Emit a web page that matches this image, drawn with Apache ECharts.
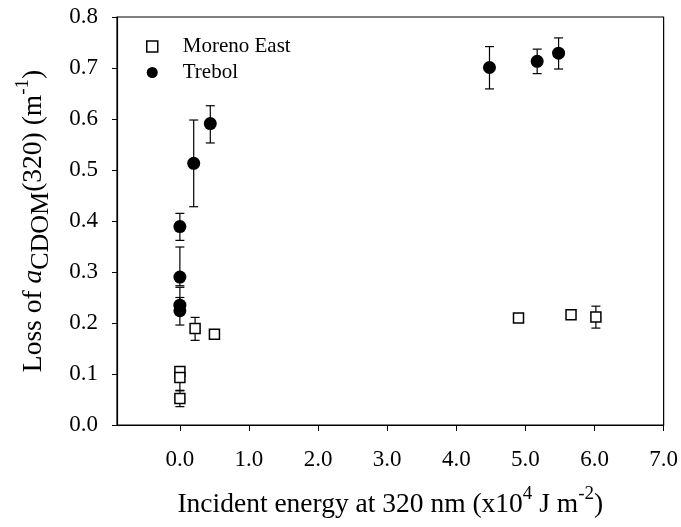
<!DOCTYPE html>
<html>
<head>
<meta charset="utf-8">
<script src="https://cdn.jsdelivr.net/npm/echarts@6/dist/echarts.min.js"></script>
<style>
  html, body { margin: 0; padding: 0; background: #fff; }
  #chart { width: 681px; height: 527px; }
</style>
</head>
<body>
<div id="chart"></div>
<script>
// values
const trebolX = [0.0, 0.0, 0.0, 0.0, 0.20, 0.44, 4.48, 5.17, 5.48];
const trebolY = [0.389, 0.290, 0.235, 0.224, 0.513, 0.591, 0.701, 0.713, 0.729];
const trebolLo = [0.362, 0.273, 0.226, 0.196, 0.428, 0.553, 0.659, 0.689, 0.698];
const trebolHi = [0.415, 0.349, 0.270, 0.250, 0.598, 0.626, 0.742, 0.737, 0.759];

const morenoX = [0.0, 0.0, 0.0, 0.22, 0.50, 4.90, 5.66, 6.02];
const morenoY = [0.105, 0.093, 0.052, 0.189, 0.178, 0.210, 0.216, 0.212];
const morenoLo = [0.095, 0.068, 0.036, 0.166, 0.174, 0.206, 0.207, 0.190];
const morenoHi = [0.114, 0.100, 0.067, 0.211, 0.182, 0.214, 0.226, 0.233];

const xTicks = [0, 1, 2, 3, 4, 5, 6, 7];

const FONT = '"Liberation Serif", "Times New Roman", serif';

const zip = (xs, ys) => xs.map((x, i) => [x, ys[i]]);
const zipErr = (xs, lo, hi) => xs.map((x, i) => [x, lo[i], hi[i]]);

function errorBars(params, api) {
  const x = api.value(0);
  const lo = api.coord([x, api.value(1)]);
  const hi = api.coord([x, api.value(2)]);
  const cap = 4.5;
  const style = { stroke: '#000', lineWidth: 1.2 };
  return {
    type: 'group',
    children: [
      { type: 'line', shape: { x1: lo[0], y1: lo[1], x2: hi[0], y2: hi[1] }, style },
      { type: 'line', shape: { x1: lo[0] - cap, y1: lo[1], x2: lo[0] + cap, y2: lo[1] }, style },
      { type: 'line', shape: { x1: hi[0] - cap, y1: hi[1], x2: hi[0] + cap, y2: hi[1] }, style },
    ],
  };
}

const chart = echarts.init(document.getElementById('chart'), null, { renderer: 'canvas' });

chart.setOption({
  animation: false,
  backgroundColor: '#fff',
  textStyle: { fontFamily: FONT, color: '#000' },
  grid: {
    left: 117, right: 16, top: 17, bottom: 102,
    show: true, borderColor: '#000', borderWidth: 1.2, backgroundColor: 'transparent',
  },
  legend: {
    orient: 'vertical',
    left: 141, top: 31,
    itemWidth: 11, itemHeight: 11, itemGap: 5,
    textStyle: { fontFamily: FONT, fontSize: 21, color: '#000', padding: [0, 0, 0, 20] },
    data: [
      { name: 'Moreno East', icon: 'rect', itemStyle: { color: '#fff', borderColor: '#000', borderWidth: 1.5 } },
      { name: 'Trebol', icon: 'circle', itemStyle: { color: '#000' } },
    ],
  },
  xAxis: {
    type: 'value',
    min: -0.91, max: 7,
    splitLine: { show: false },
    axisLine: { onZero: false, lineStyle: { color: '#000', width: 1.2 } },
    axisTick: { customValues: xTicks, length: 6, lineStyle: { color: '#000' } },
    axisLabel: {
      customValues: xTicks, margin: 23,
      fontFamily: FONT, fontSize: 23, color: '#000',
      formatter: v => v.toFixed(1),
    },
    name: '{m|Incident energy at 320 nm (x10}{p|4}{m| J m}{p|-2}{m|)}',
    nameLocation: 'middle',
    nameGap: 60,
    nameTextStyle: {
      rich: {
        m: { fontFamily: FONT, fontSize: 27.5, color: '#000', lineHeight: 40 },
        p: { fontFamily: FONT, fontSize: 19, color: '#000', verticalAlign: 'top' },
      },
    },
  },
  yAxis: {
    type: 'value',
    min: 0, max: 0.8, interval: 0.1,
    splitLine: { show: false },
    axisLine: { onZero: false, lineStyle: { color: '#000', width: 1.2 } },
    axisTick: { length: 5, lineStyle: { color: '#000' } },
    axisLabel: {
      margin: 19,
      fontFamily: FONT, fontSize: 23, color: '#000',
      formatter: v => v.toFixed(1),
    },
    name: '{m|Loss of }{i|a}{s|CDOM}{m|(320) (m}{p|-1}{m|)}',
    nameLocation: 'middle',
    nameRotate: 90,
    nameGap: 63,
    nameTextStyle: {
      rich: {
        m: { fontFamily: FONT, fontSize: 27.5, color: '#000', lineHeight: 40 },
        i: { fontFamily: FONT, fontSize: 27.5, fontStyle: 'italic', color: '#000', lineHeight: 40 },
        s: { fontFamily: FONT, fontSize: 26, color: '#000', verticalAlign: 'bottom' },
        p: { fontFamily: FONT, fontSize: 19, color: '#000', verticalAlign: 'top' },
      },
    },
  },
  series: [
    {
      name: 'Trebol err', type: 'custom', renderItem: errorBars,
      data: zipErr(trebolX, trebolLo, trebolHi), z: 1, silent: true,
    },
    {
      name: 'Moreno err', type: 'custom', renderItem: errorBars,
      data: zipErr(morenoX, morenoLo, morenoHi), z: 1, silent: true,
    },
    {
      name: 'Moreno East', type: 'scatter', symbol: 'rect', symbolSize: 10,
      itemStyle: { color: '#fff', borderColor: '#000', borderWidth: 1.5, opacity: 1 },
      data: zip(morenoX, morenoY), z: 3,
    },
    {
      name: 'Trebol', type: 'scatter', symbol: 'circle', symbolSize: 13,
      itemStyle: { color: '#000', opacity: 1 },
      data: zip(trebolX, trebolY), z: 4,
    },
  ],
});
</script>
</body>
</html>
